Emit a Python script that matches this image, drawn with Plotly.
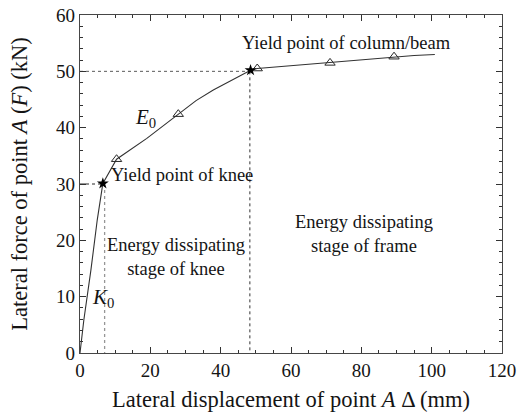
import plotly.graph_objects as go

# Curve (lateral displacement mm, lateral force kN)
curve_x = [0, 1.1, 3.1, 4.9, 6.5, 8.05, 10.4, 19.0, 27.95, 33.0, 37.9, 42.7, 46.0, 48.5, 50.4, 55.0, 59.7, 65.0, 71.1, 80.0, 89.3, 95.0, 100.9]
curve_y = [0, 5.9, 14.7, 23.6, 30.1, 31.9, 34.4, 38.1, 42.4, 44.8, 46.7, 48.3, 49.5, 50.2, 50.5, 50.75, 50.9, 51.2, 51.5, 52.0, 52.6, 52.8, 53.0]

tri_x = [10.4, 27.95, 50.4, 71.1, 89.3]
tri_y = [34.4, 42.4, 50.5, 51.5, 52.6]

star_x = [6.5, 48.5]
star_y = [30.1, 50.2]

knee_x, knee_y = 7.0, 30.0
frame_x, frame_y = 48.3, 50.0

fig = go.Figure()

FONT = "Liberation Serif"
TXT = "rgb(20,20,20)"

# reference dotted lines
fig.add_trace(go.Scatter(x=[0, 6.5], y=[knee_y, knee_y], mode="lines",
                         line=dict(color="rgb(40,40,40)", width=1, dash="dashdot"), hoverinfo="skip"))
fig.add_trace(go.Scatter(x=[knee_x, knee_x], y=[knee_y, 0], mode="lines",
                         line=dict(color="rgb(150,150,150)", width=1.3, dash="dot"), hoverinfo="skip"))
fig.add_trace(go.Scatter(x=[0, frame_x], y=[frame_y, frame_y], mode="lines",
                         line=dict(color="rgb(90,90,90)", width=1, dash="dot"), hoverinfo="skip"))
fig.add_trace(go.Scatter(x=[frame_x, frame_x], y=[frame_y, 0], mode="lines",
                         line=dict(color="rgb(50,50,50)", width=1, dash="dot"), hoverinfo="skip"))

fig.add_trace(go.Scatter(x=curve_x, y=curve_y, mode="lines",
                         line=dict(color="rgb(50,50,50)", width=1.1)))
fig.add_trace(go.Scatter(x=tri_x, y=tri_y, mode="markers",
                         marker=dict(symbol="triangle-up-open", size=9, color="rgb(40,40,40)",
                                     line=dict(width=1, color="rgb(40,40,40)"))))
fig.add_trace(go.Scatter(x=star_x, y=star_y, mode="markers",
                         marker=dict(symbol="star", size=9, color="black")))

ann_font = dict(family=FONT, size=18.5, color=TXT)
sym_font = dict(family=FONT, size=21, color=TXT)
annots = [
    dict(x=75.8, y=55.0, text="Yield point of column/beam", font=ann_font),
    dict(x=28.9, y=31.6, text="Yield point of knee", font=ann_font),
    dict(x=27.2, y=17.1, text="Energy dissipating<br>stage of knee", font=ann_font),
    dict(x=80.8, y=21.1, text="Energy dissipating<br>stage of frame", font=ann_font),
    dict(x=18.5, y=41.7, text="<i>E</i><sub>0</sub>", font=sym_font),
    dict(x=6.6, y=9.7, text="<i>K</i><sub>0</sub>", font=sym_font),
]
for a in annots:
    fig.add_annotation(x=a["x"], y=a["y"], text=a["text"], showarrow=False,
                       font=a["font"], xanchor="center", yanchor="middle")

axis_common = dict(showgrid=False, zeroline=False, showline=True, linecolor="rgb(70,70,70)",
                   linewidth=1.2, mirror="ticks", ticks="inside", ticklen=6, tickcolor="rgb(50,50,50)",
                   automargin=False, ticklabeloverflow="allow",
                   tickfont=dict(family=FONT, size=19, color=TXT))

fig.update_xaxes(range=[0, 120], dtick=20, tick0=0,
                 minor=dict(dtick=5, ticks="inside", ticklen=3, tickcolor="rgb(50,50,50)"),
                 title=dict(text="Lateral displacement of point <i>A</i> Δ (mm)",
                            font=dict(family=FONT, size=22.5, color=TXT), standoff=14),
                 **axis_common)
fig.update_yaxes(range=[0, 60], dtick=10, tick0=0,
                 minor=dict(dtick=2, ticks="inside", ticklen=3, tickcolor="rgb(50,50,50)"),
                 title=dict(text="Lateral force of point <i>A</i> (<i>F</i>) (kN)",
                            font=dict(family=FONT, size=22.5, color=TXT), standoff=22),
                 **axis_common)

fig.update_layout(width=528, height=412, showlegend=False,
                  plot_bgcolor="white", paper_bgcolor="white",
                  margin=dict(l=80, r=26, t=15, b=59))

# remove the page's default body margin so the figure fills the window exactly
fig.write_html("out.html", config={"displayModeBar": False},
               post_script="document.body.style.margin='0';")
